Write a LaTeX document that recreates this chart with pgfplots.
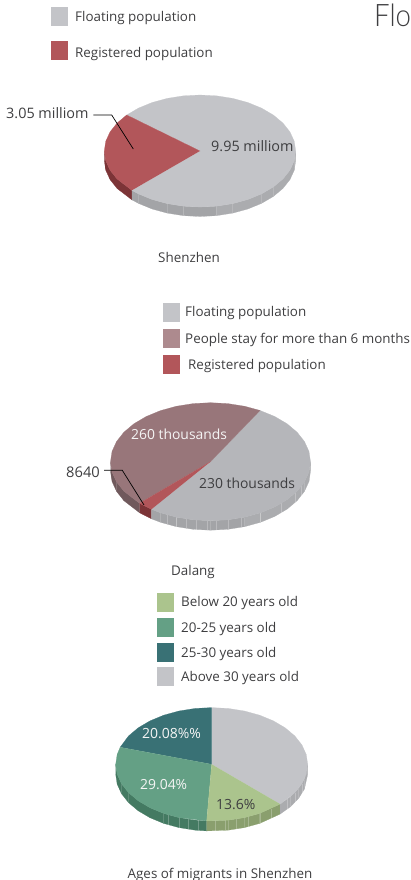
\documentclass[border=0pt]{standalone}
\usepackage{fontspec}
\setmainfont{Open Sans}
\newfontfamily\titlefont{Lato Light}
\usepackage{pgfplots}
\pgfplotsset{compat=1.18}

\definecolor{txt}{HTML}{3E3E40}
\definecolor{grayA}{HTML}{C3C4C8}
\definecolor{grayB}{HTML}{B5B6BA}
\definecolor{sideA}{HTML}{A3A4A7}
\definecolor{sideB}{HTML}{ABACAF}
\definecolor{redA}{HTML}{B2565A}
\definecolor{redS}{HTML}{7C3437}
\definecolor{mauve}{HTML}{98767A}
\definecolor{mauveL}{HTML}{AD8A8E}
\definecolor{mauveS}{HTML}{70595C}
\definecolor{lgreen}{HTML}{ABC48D}
\definecolor{lgreenS}{HTML}{8A9F6E}
\definecolor{green}{HTML}{64A085}
\definecolor{greenS}{HTML}{447A62}
\definecolor{teal}{HTML}{397175}

% current pie: centre, radii, depth, all in pixels of the reference
\newcommand\setpie[5]{\def\cx{#1}\def\cy{#2}\def\rx{#3}\def\ry{#4}\def\dep{#5}}
\pgfkeys{/pgfplots/table/pie/.style={
  x expr=\cx+\rx*\thisrow{r}*cos(\thisrow{a}),
  y expr=\cy-\ry*\thisrow{r}*sin(\thisrow{a})+\dep*\thisrow{d},
  row sep=\\}}
% top face of a slice: rows of angle, radius, depth flag
\newcommand\face[2]{\addplot[fill=#1,draw=#1,line width=0.2pt,mark=none]
  table[pie]{a r d\\#2};}
% one quad of the rim between two angles
\newcommand\rim[3]{\addplot[fill=#3,draw=#3,line width=0.2pt,mark=none]
  table[pie]{a r d\\#1 1 0\\#2 1 0\\#2 1 1\\#1 1 1\\};}
\newcommand\seam[1]{\addplot[draw=white,draw opacity=0.25,line width=0.3pt,mark=none]
  table[pie]{a r d\\#1 1 0\\#1 1 1\\};}
\newcommand\swatch[5]{\addplot[fill=#1,draw=none,mark=none]
  coordinates {(#2,#4) (#3,#4) (#3,#5) (#2,#5)};}
\newcommand\lab[4][txt]{\node[anchor=base west,inner sep=0pt,text=#1] at (axis cs:#2,#3) {#4};}
\newcommand\vlab[5][txt]{\node[anchor=base west,inner sep=0pt,text=#1,font=\fontsize{#4}{15}\selectfont] at (axis cs:#2,#3) {#5};}
\newcommand\clab[3]{\node[anchor=base,inner sep=0pt,text=txt] at (axis cs:#1,#2) {#3};}

\begin{document}
\begin{tikzpicture}[x=1pt,y=1pt]
\path[use as bounding box] (0,0) rectangle (411,880);
\begin{axis}[
  at={(0,0)},anchor=south west,
  scale only axis,width=411pt,height=880pt,
  xmin=0,xmax=411,ymin=0,ymax=880,y dir=reverse,
  hide axis,clip=false,
  font=\fontsize{13.4}{15}\selectfont,
]
% Shenzhen
\setpie{200}{151}{95.7}{56}{9.5}
\rim{180}{190}{redS}\rim{190}{200}{redS}\rim{200}{210}{redS}\rim{210}{224.6}{redS}
\rim{224.6}{230}{sideA}\rim{230}{240}{sideA}\rim{240}{250}{sideA}\rim{250}{260}{sideA}\rim{260}{270}{sideA}
\rim{270}{280}{sideA}\rim{280}{290}{sideB}\rim{290}{300}{sideB}\rim{300}{310}{sideB}\rim{310}{320}{sideB}
\rim{320}{330}{sideB}\rim{330}{340}{sideB}\rim{340}{350}{sideB}\rim{350}{360}{sideB}
\face{grayA}{0 0 0\\224.6 1 0\\230 1 0\\240 1 0\\250 1 0\\260 1 0\\270 1 0\\280 1 0\\290 1 0\\300 1 0\\310 1 0\\320 1 0\\330 1 0\\340 1 0\\350 1 0\\360 1 0\\370 1 0\\380 1 0\\390 1 0\\400 1 0\\410 1 0\\420 1 0\\430 1 0\\440 1 0\\450 1 0\\460 1 0\\470 1 0\\480 1 0\\490 1 0\\500 1 0\\}
\face{redA}{0 0 0\\140 1 0\\150 1 0\\160 1 0\\170 1 0\\180 1 0\\190 1 0\\200 1 0\\210 1 0\\224.6 1 0\\}
\addplot[black,line width=0.7pt,mark=none] coordinates {(93.3,115) (111.7,115) (133.3,149)};

% Dalang
\setpie{210.5}{461.7}{100}{59}{9.5}
\rim{180}{190}{mauveS}\rim{190}{200}{mauveS}\rim{200}{210}{mauveS}\rim{210}{224.8}{mauveS}
\rim{224.8}{233.8}{redS}
\rim{233.8}{240}{sideA}\rim{240}{250}{sideA}\rim{250}{260}{sideA}\rim{260}{270}{sideA}\rim{270}{280}{sideA}
\rim{280}{290}{sideA}\rim{290}{300}{sideB}\rim{300}{310}{sideB}\rim{310}{320}{sideB}\rim{320}{330}{sideB}
\rim{330}{340}{sideB}\rim{340}{350}{sideB}\rim{350}{360}{sideB}
\seam{244}\seam{250}\seam{256}\seam{262}\seam{268}\seam{273.5}\seam{280}\seam{288}\seam{300}\seam{315}\seam{328}\seam{335.5}
\face{grayB}{0 0 0\\233.8 1 0\\240 1 0\\250 1 0\\260 1 0\\270 1 0\\280 1 0\\290 1 0\\300 1 0\\310 1 0\\320 1 0\\330 1 0\\340 1 0\\350 1 0\\360 1 0\\370 1 0\\380 1 0\\390 1 0\\400 1 0\\410 1 0\\420.3 1 0\\}
\face{mauve}{0 0 0\\60.3 1 0\\70 1 0\\80 1 0\\90 1 0\\100 1 0\\110 1 0\\120 1 0\\130 1 0\\140 1 0\\150 1 0\\160 1 0\\170 1 0\\180 1 0\\190 1 0\\200 1 0\\210 1 0\\224.8 1 0\\}
\face{redA}{0 0 0\\224.8 1 0\\233.8 1 0\\}
\addplot[black,line width=0.7pt,mark=none] coordinates {(104,470.3) (122.3,470.3) (144,505)};

% Ages of migrants
\setpie{211.7}{764.3}{96}{56.7}{10}
\rim{180}{190}{greenS}\rim{190}{200}{greenS}\rim{200}{210}{greenS}\rim{210}{220}{greenS}\rim{220}{230}{greenS}
\rim{230}{240}{greenS}\rim{240}{250}{greenS}\rim{250}{260}{greenS}\rim{260}{267}{greenS}
\rim{267}{280}{lgreenS}\rim{280}{290}{lgreenS}\rim{290}{300}{lgreenS}\rim{300}{315.5}{lgreenS}
\rim{315.5}{325}{sideB}\rim{325}{335}{sideB}\rim{335}{345}{sideB}\rim{345}{360}{sideB}
\seam{243}\seam{250}\seam{256}\seam{262}\seam{272}\seam{278}\seam{285}\seam{292}\seam{300}\seam{308}\seam{322}\seam{330}\seam{340}
\face{grayA}{0 0 0\\-44.5 1 0\\-30 1 0\\-20 1 0\\-10 1 0\\0 1 0\\10 1 0\\20 1 0\\30 1 0\\40 1 0\\50 1 0\\60 1 0\\70 1 0\\80 1 0\\90 1 0\\}
\face{teal}{0 0 0\\90 1 0\\100 1 0\\110 1 0\\120 1 0\\130 1 0\\140 1 0\\150 1 0\\162.5 1 0\\}
\face{green}{0 0 0\\162.5 1 0\\170 1 0\\180 1 0\\190 1 0\\200 1 0\\210 1 0\\220 1 0\\230 1 0\\240 1 0\\250 1 0\\267 1 0\\}
\face{lgreen}{0 0 0\\267 1 0\\280 1 0\\290 1 0\\300 1 0\\315.5 1 0\\}

% legend swatches
\swatch{grayA}{51}{68}{7}{26}
\swatch{redA}{51}{68}{41}{60}
\swatch{grayA}{163}{180}{303}{322}
\swatch{mauveL}{163}{180}{329}{348}
\swatch{redA}{163}{180}{355}{374}
\swatch{lgreen}{157}{174}{593}{612}
\swatch{green}{157}{174}{618}{637}
\swatch{teal}{157}{174}{643}{662}
\swatch{grayA}{157}{174}{667}{686}

% text
\lab{75}{21.5}{Floating population}
\lab{75}{57.5}{Registered population}
\lab{185}{316}{Floating population}
\lab{185}{343}{People stay for more than 6 months}
\lab{188}{369}{Registered population}
\lab{181}{606}{Below 20 years old}
\lab{181}{632}{20-25 years old}
\lab{181}{657}{25-30 years old}
\lab{181}{681}{Above 30 years old}
\clab{189}{262.5}{Shenzhen}
\clab{193}{575}{Dalang}
\clab{220}{878}{Ages of migrants in Shenzhen}
\vlab{6}{119}{14.4}{3.05 milliom}
\vlab{211}{151}{14.4}{9.95 milliom}
\vlab[white!92!gray]{131}{439}{13.9}{260 thousands}
\vlab{199}{488}{13.9}{230 thousands}
\vlab{66}{477}{14.7}{8640}
\vlab[white!92!gray]{142}{738}{14}{20.08\%\%}
\vlab[white!92!gray]{140}{789}{13.9}{29.04\%}
\vlab{216}{809}{14}{13.6\%}
\node[anchor=base west,inner sep=0pt,text=txt,font=\titlefont\fontsize{31}{31}\selectfont] at (axis cs:374,26.5) {\scalebox{0.89}[1]{Flo}};
\end{axis}
\end{tikzpicture}
\end{document}
